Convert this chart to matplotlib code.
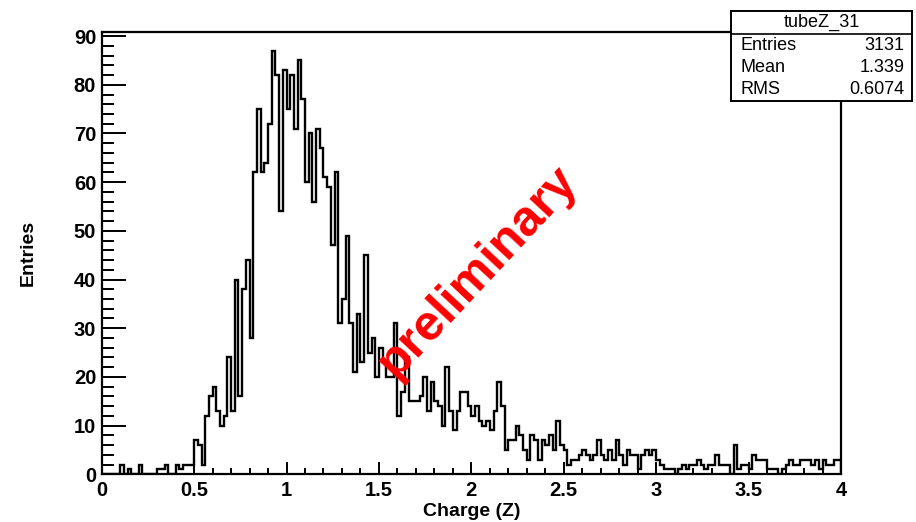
import matplotlib
matplotlib.use("Agg")
import matplotlib.pyplot as plt
from matplotlib.ticker import MultipleLocator
import numpy as np

plt.rcParams['font.family'] = ['Liberation Sans', 'DejaVu Sans']

# histogram tubeZ_31: 200 bins from 0 to 4
nbins = 200
xlo, xhi = 0.0, 4.0
counts = [
    0, 0, 0, 0, 0, 2, 0, 1, 0, 0,
    2, 0, 0, 0, 0, 1, 1, 2, 0, 0,
    2, 1, 2, 2, 2, 7, 6, 2, 12, 16,
    18, 13, 10, 12, 24, 13, 40, 16, 38, 44,
    28, 62, 75, 62, 64, 72, 87, 82, 54, 83,
    75, 82, 71, 85, 77, 60, 70, 56, 71, 67,
    61, 59, 47, 62, 31, 36, 49, 31, 21, 33,
    23, 45, 25, 28, 20, 26, 23, 20, 20, 31,
    12, 17, 24, 15, 15, 15, 16, 20, 13, 19,
    15, 14, 10, 22, 13, 9, 13, 17, 17, 14,
    12, 14, 11, 10, 11, 9, 13, 19, 14, 5,
    7, 7, 10, 8, 5, 3, 8, 7, 3, 7,
    6, 8, 5, 11, 6, 5, 2, 3, 3, 4,
    5, 4, 3, 4, 7, 4, 3, 5, 3, 7,
    4, 2, 5, 4, 4, 1, 4, 5, 4, 5,
    3, 2, 1, 1, 1, 0, 1, 2, 1, 2,
    2, 3, 2, 1, 2, 2, 4, 2, 2, 2,
    0, 6, 1, 2, 2, 1, 4, 3, 3, 3,
    1, 1, 1, 0, 1, 2, 3, 2, 2, 3,
    3, 3, 2, 3, 1, 3, 2, 2, 3, 3,
]

stat_title = "tubeZ_31"
stat_names = ["Entries", "Mean", "RMS"]
stat_values = ["3131", "1.339", "0.6074"]

edges = np.linspace(xlo, xhi, nbins + 1)

W, H = 916, 522
fig = plt.figure(figsize=(W / 100, H / 100), dpi=100)
ax = fig.add_axes([101.7 / W, 1 - 474.3 / H, (841 - 101.7) / W, (474.3 - 31.7) / H])

ax.stairs(counts, edges, color='black', linewidth=1.7, baseline=0)
ax.set_xlim(xlo, xhi)
ax.set_ylim(0, 90.9)

for s in ax.spines.values():
    s.set_linewidth(1.6)

ax.xaxis.set_major_locator(MultipleLocator(0.5))
ax.xaxis.set_minor_locator(MultipleLocator(0.1))
ax.yaxis.set_major_locator(MultipleLocator(10))
ax.yaxis.set_minor_locator(MultipleLocator(2))
ax.xaxis.set_major_formatter(plt.FuncFormatter(lambda v, p: "%g" % v))
ax.tick_params(axis='x', which='major', direction='in', length=8.6, width=1.4,
               labelsize=14.5, pad=5)
ax.tick_params(axis='x', which='minor', direction='in', length=4.3, width=1.4)
ax.tick_params(axis='y', which='major', direction='in', length=17, width=1.4,
               labelsize=14.5, pad=4)
ax.tick_params(axis='y', which='minor', direction='in', length=8.6, width=1.4)
for lab in ax.get_xticklabels() + ax.get_yticklabels():
    lab.set_fontweight('bold')

ax.set_xlabel("Charge (Z)", fontsize=14, fontweight='bold', labelpad=2)
ax.set_ylabel("Entries", fontsize=14, fontweight='bold', labelpad=27)

fig.text(478 / W, 1 - 272 / H, "preliminary", color='red', fontsize=36,
         fontweight='bold', rotation=47, ha='center', va='center', zorder=10)

# stats box
sx0, sx1, sy0, sy1 = 731, 912, 11, 101
sax = fig.add_axes([sx0 / W, 1 - sy1 / H, (sx1 - sx0) / W, (sy1 - sy0) / H])
sax.set_xticks([])
sax.set_yticks([])
sax.set_xlim(0, 1)
sax.set_ylim(0, 1)
for s in sax.spines.values():
    s.set_linewidth(1.4)
sep = (sy1 - 34.3) / (sy1 - sy0)
sax.axhline(sep, color='black', linewidth=1.2)
sax.text(0.5, (sy1 - 22.5) / (sy1 - sy0), stat_title, ha='center', va='center', fontsize=13)
rows_y = [45, 67.5, 90]
for name, val, ry in zip(stat_names, stat_values, rows_y):
    yy = (sy1 - ry) / (sy1 - sy0)
    sax.text(0.05, yy, name, ha='left', va='center', fontsize=13)
    sax.text(0.96, yy, val, ha='right', va='center', fontsize=13)

fig.savefig("out.png", dpi=100)
